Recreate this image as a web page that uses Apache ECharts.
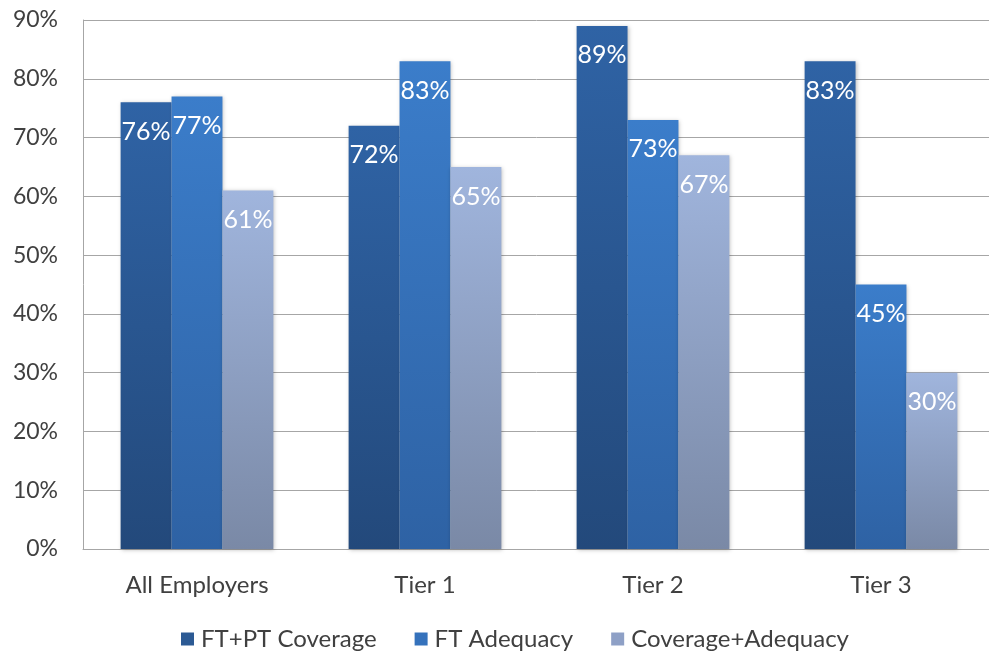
<!DOCTYPE html>
<html><head><meta charset="utf-8">
<script src="https://cdn.jsdelivr.net/npm/echarts@6/dist/echarts.min.js"></script>
<style>html,body{margin:0;padding:0;background:#fff}#c{width:989px;height:656px}</style>
</head><body><div id="c"></div>
<script>
const categories = ['All Employers', 'Tier 1', 'Tier 2', 'Tier 3'];
const seriesNames = ['FT+PT Coverage', 'FT Adequacy', 'Coverage+Adequacy'];
const ftptCoverage = [76, 72, 89, 83];
const ftAdequacy = [77, 83, 73, 45];
const coverageAdequacy = [61, 65, 67, 30];
const yTicks = [0, 10, 20, 30, 40, 50, 60, 70, 80, 90];

const FONT = 'Lato';
const grads = [
  ['#2f63a5', '#23497b'],
  ['#3b7dca', '#2e62a4'],
  ['#a0b5dd', '#7a89a6']
];
const legendColors = ['#2c5a94', '#3572bc', '#8ea0c6'];
function grad(c){ return new echarts.graphic.LinearGradient(0,0,0,1,[{offset:0,color:c[0]},{offset:1,color:c[1]}]); }

const chart = echarts.init(document.getElementById('c'), null, {renderer:'canvas'});
const data = [ftptCoverage, ftAdequacy, coverageAdequacy];
chart.setOption({
  animation: false,
  grid: {left: 83, width: 912, top: 20, bottom: 107, outerBoundsMode: 'none', containLabel: false},
  legend: {
    bottom: 0, left: 176,
    itemWidth: 13, itemHeight: 13, itemGap: 38,
    icon: 'rect',
    textStyle: {fontFamily: FONT, fontSize: 24, color: '#404040', padding: [0,0,0,2]},
    data: seriesNames.map((n,i)=>({name:n, itemStyle:{color: legendColors[i]}}))
  },
  xAxis: {
    type: 'category', data: categories,
    axisLine: {show: true, lineStyle: {color: '#a6a6a6', width: 1}},
    axisTick: {show: false},
    axisLabel: {fontFamily: FONT, fontSize: 24, color: '#404040', margin: 24}
  },
  yAxis: {
    type: 'value', min: 0, max: 90, interval: 10,
    axisLine: {show: true, lineStyle: {color: '#a6a6a6', width: 1}},
    axisTick: {show: false},
    splitLine: {show: true, lineStyle: {color: '#a6a6a6', width: 1}},
    axisLabel: {fontFamily: FONT, fontSize: 23, color: '#404040', margin: 25,
      formatter: v => yTicks.includes(v) ? v + '%' : ''}
  },
  series: data.map((d,i)=>({
    name: seriesNames[i], type: 'bar', data: d,
    barGap: '0%', barCategoryGap: '33%',
    itemStyle: {color: grad(grads[i]), shadowColor: 'rgba(0,0,0,0.25)', shadowBlur: 4, shadowOffsetX: 1, shadowOffsetY: 1},
    label: {show: true, position: 'insideTop', distance: 17, color: '#ffffff',
      fontFamily: FONT, fontSize: 25, formatter: p => p.value + '%'}
  }))
});
</script></body></html>
